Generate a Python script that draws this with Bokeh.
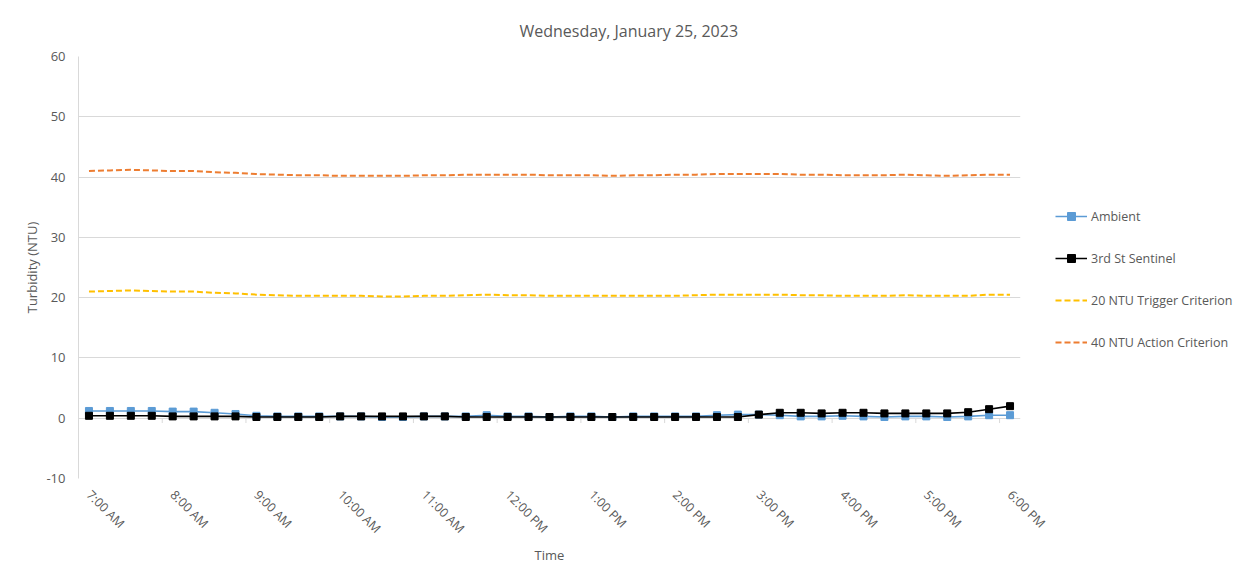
import math
from bokeh.plotting import figure
from bokeh.models import FixedTicker, Legend, LegendItem, ColumnDataSource
from bokeh.embed import file_html
from bokeh.resources import INLINE

# ---- data ----
hour_labels = ["7:00 AM", "8:00 AM", "9:00 AM", "10:00 AM", "11:00 AM", "12:00 PM",
               "1:00 PM", "2:00 PM", "3:00 PM", "4:00 PM", "5:00 PM", "6:00 PM"]
steps_per_hour = 4  # 15-minute readings

ambient = [1.2, 1.2, 1.2, 1.2, 1.1, 1.1, 0.9, 0.7, 0.4, 0.3, 0.3, 0.3,
           0.3, 0.3, 0.2, 0.2, 0.3, 0.3, 0.3, 0.5, 0.3, 0.3, 0.2, 0.3,
           0.3, 0.2, 0.3, 0.3, 0.3, 0.3, 0.5, 0.6, 0.6, 0.5, 0.3, 0.3,
           0.4, 0.3, 0.2, 0.3, 0.3, 0.2, 0.3, 0.5, 0.5]
sentinel = [0.4, 0.4, 0.4, 0.4, 0.3, 0.3, 0.3, 0.3, 0.2, 0.2, 0.2, 0.2,
            0.3, 0.3, 0.3, 0.3, 0.3, 0.3, 0.2, 0.2, 0.2, 0.2, 0.2, 0.2,
            0.2, 0.2, 0.2, 0.2, 0.2, 0.2, 0.2, 0.2, 0.6, 0.9, 0.9, 0.8,
            0.9, 0.9, 0.8, 0.8, 0.8, 0.8, 1.0, 1.5, 2.0]
trigger = [21.0, 21.1, 21.2, 21.1, 21.0, 21.0, 20.8, 20.7, 20.5, 20.4, 20.3, 20.3,
           20.3, 20.3, 20.2, 20.2, 20.3, 20.3, 20.4, 20.5, 20.4, 20.4, 20.3, 20.3,
           20.3, 20.3, 20.3, 20.3, 20.3, 20.4, 20.5, 20.5, 20.5, 20.5, 20.4, 20.4,
           20.3, 20.3, 20.3, 20.4, 20.3, 20.3, 20.3, 20.5, 20.5]
action = [41.0, 41.1, 41.2, 41.1, 41.0, 41.0, 40.8, 40.7, 40.5, 40.4, 40.3, 40.3,
          40.2, 40.2, 40.2, 40.2, 40.3, 40.3, 40.4, 40.4, 40.4, 40.4, 40.3, 40.3,
          40.3, 40.2, 40.3, 40.3, 40.4, 40.4, 40.5, 40.5, 40.5, 40.5, 40.4, 40.4,
          40.3, 40.3, 40.3, 40.4, 40.3, 40.2, 40.3, 40.4, 40.4]
y_ticks = [-10, 0, 10, 20, 30, 40, 50, 60]

x = list(range(len(ambient)))
src = ColumnDataSource(dict(x=x, ambient=ambient, sentinel=sentinel,
                            trigger=trigger, action=action))

TXT = "#595959"
GRID = "#d9d9d9"
FONT = "Open Sans"

p = figure(frame_width=942, frame_height=422, output_backend="svg", toolbar_location=None,
           x_range=(-0.5, len(x) - 0.5), y_range=(-10, 60),
           min_border_left=78, min_border_top=56, min_border_bottom=86,
           min_border_right=0)
p.outline_line_color = None
p.background_fill_color = "white"

p.title.text = "Wednesday, January 25, 2023"
p.title.align = "left"
p.title.text_font = FONT
p.title.text_font_size = "16px"
p.title.text_font_style = "normal"
p.title.text_color = TXT
p.title.offset = 441
p.title.standoff = 30

# grid
p.xgrid.grid_line_color = None
p.ygrid.grid_line_color = GRID
p.ygrid.ticker = FixedTicker(ticks=y_ticks)

# y axis
p.yaxis.ticker = FixedTicker(ticks=y_ticks)
p.yaxis.major_label_overrides = {t: str(t) for t in y_ticks}
p.yaxis.axis_line_color = GRID
p.yaxis.major_tick_line_color = None
p.yaxis.minor_tick_line_color = None
p.yaxis.major_label_text_font = FONT
p.yaxis.major_label_text_font_size = "13px"
p.yaxis.major_label_text_color = TXT
p.yaxis.major_label_standoff = 7
p.yaxis.axis_label = "Turbidity (NTU)"
p.yaxis.axis_label_text_font = FONT
p.yaxis.axis_label_text_font_size = "13px"
p.yaxis.axis_label_text_font_style = "normal"
p.yaxis.axis_label_text_color = TXT
p.yaxis.axis_label_standoff = 2

# x axis
label_pos = [i * steps_per_hour for i in range(len(hour_labels))]
p.xaxis.ticker = FixedTicker(ticks=label_pos)
p.xaxis.major_label_overrides = {pos: lab for pos, lab in zip(label_pos, hour_labels)}
p.xaxis.major_label_orientation = -math.pi / 4
p.xaxis.axis_line_color = None
p.xaxis.major_tick_line_color = None
p.xaxis.minor_tick_line_color = None
p.xaxis.major_label_text_font = FONT
p.xaxis.major_label_text_font_size = "12.5px"
p.xaxis.major_label_text_color = TXT
p.xaxis.major_label_standoff = 8
p.xaxis.axis_label = "Time"
p.xaxis.axis_label_text_font = FONT
p.xaxis.axis_label_text_font_size = "13px"
p.xaxis.axis_label_text_font_style = "normal"
p.xaxis.axis_label_text_color = TXT
p.xaxis.axis_label_standoff = 0

# small category-boundary tick marks on the zero line
bounds = [pos - 0.5 for pos in label_pos[1:]]
p.segment(x0=bounds, x1=bounds, y0=[0] * len(bounds), y1=[-0.8] * len(bounds),
          line_color=GRID, line_width=1)

BLUE = "#5B9BD5"
r_amb_l = p.line("x", "ambient", source=src, line_color=BLUE, line_width=1.6)
r_amb_m = p.scatter("x", "ambient", source=src, marker="square", size=7,
                    fill_color=BLUE, line_color=BLUE)
r_sen_l = p.line("x", "sentinel", source=src, line_color="black", line_width=1.6)
r_sen_m = p.scatter("x", "sentinel", source=src, marker="square", size=7,
                    fill_color="black", line_color="black")
r_trig = p.line("x", "trigger", source=src, line_color="#FFC000", line_width=2,
                line_dash="6 3")
r_act = p.line("x", "action", source=src, line_color="#ED7D31", line_width=2,
               line_dash="6 3")

legend = Legend(items=[
    LegendItem(label="Ambient", renderers=[r_amb_l, r_amb_m]),
    LegendItem(label="3rd St Sentinel", renderers=[r_sen_l, r_sen_m]),
    LegendItem(label="20 NTU Trigger Criterion", renderers=[r_trig]),
    LegendItem(label="40 NTU Action Criterion", renderers=[r_act]),
], location=(35, 126))
legend.border_line_color = None
legend.background_fill_alpha = 0
legend.padding = 0
legend.margin = 35
legend.spacing = 22
legend.glyph_width = 32
legend.glyph_height = 20
legend.label_height = 20
legend.label_standoff = 4
legend.label_text_font = FONT
legend.label_text_font_size = "12.5px"
legend.label_text_color = TXT
p.add_layout(legend, "right")

open("out.html", "w").write(file_html(p, INLINE))
